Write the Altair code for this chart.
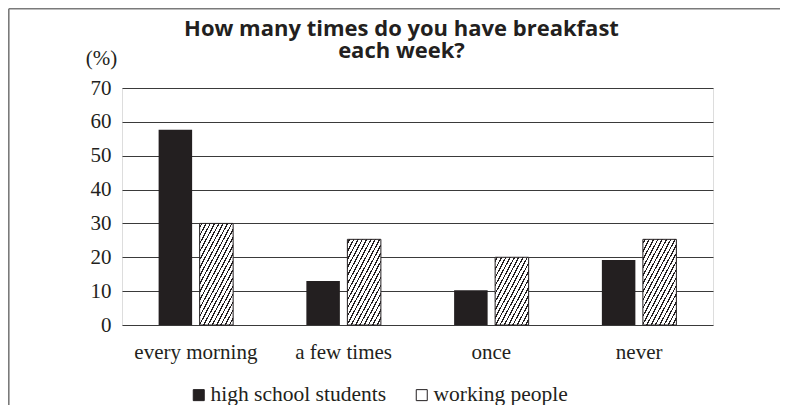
import json
import math
import altair as alt
import pandas as pd

categories = ["every morning", "a few times", "once", "never"]
series = ["high school students", "working people"]
high_school = [57.7, 13.0, 10.3, 19.2]
working = [30.0, 25.3, 20.0, 25.3]
y_ticks = [0, 10, 20, 30, 40, 50, 60, 70]

rows = []
for c, v in zip(categories, high_school):
    rows.append({"category": c, "series": series[0], "value": v})
for c, v in zip(categories, working):
    rows.append({"category": c, "series": series[1], "value": v})
df = pd.DataFrame(rows)

W_PLOT, H_PLOT = 591, 237
PAD_L, PAD_T, PAD_R, PAD_B = 114, 80, 67, 80
Y_MAX = 70
PAD_IN, PAD_OUT = 0.183, 0.893
step_o = (W_PLOT / len(categories)) / (2 - PAD_IN + 2 * PAD_OUT)
BAR_W = step_o * (1 - PAD_IN)
INK = "#231f20"


def hatch(h_px, w_px=BAR_W, theta_deg=62.0, period_h=4.3, lw=1.2):
    s = math.sin(math.radians(theta_deg))
    c = math.cos(math.radians(theta_deg))
    fmax = w_px * s + h_px * c
    d = (w_px * s) ** 2 + (h_px * c) ** 2
    k = fmax / d
    gx, gy = k * w_px * s, k * h_px * c
    p = period_h * s
    stops = [{"offset": 0, "color": "white"}]
    f = p / 2
    while f + lw / 2 < fmax:
        a = (f - lw / 2) / fmax
        b = (f + lw / 2) / fmax
        stops += [
            {"offset": round(a, 5), "color": "white"},
            {"offset": round(a, 5), "color": INK},
            {"offset": round(b, 5), "color": INK},
            {"offset": round(b, 5), "color": "white"},
        ]
        f += p
    stops.append({"offset": 1, "color": "white"})
    return {"gradient": "linear", "x1": 0, "y1": 0, "x2": round(gx, 5),
            "y2": round(gy, 5), "stops": stops}


x_enc = alt.X("category:N", sort=categories,
              scale=alt.Scale(paddingInner=0, paddingOuter=0),
              axis=alt.Axis(title=None, labelAngle=0, domain=False, ticks=False,
                            tickSize=0, labelPadding=16, labelFontSize=21,
                            labelFont="Liberation Serif", labelColor=INK))
xo_enc = alt.XOffset("series:N", scale=alt.Scale(domain=series, paddingInner=PAD_IN,
                                                 paddingOuter=PAD_OUT))
y_enc = alt.Y("value:Q", scale=alt.Scale(domain=[0, Y_MAX], nice=False),
              axis=alt.Axis(values=y_ticks, title="(%)", titleAngle=0, titleX=-21,
                            titleY=-30, titleAlign="center", titleBaseline="middle",
                            titleFont="Liberation Serif", titleFontSize=21,
                            titleFontWeight="normal", titleColor=INK,
                            domain=False, ticks=False, tickSize=0, labelPadding=11,
                            labelFont="Liberation Serif", labelFontSize=21,
                            labelColor=INK, labelBaseline="middle",
                            grid=True, gridColor="#3a3a3a", gridWidth=1.2))

legend_kw = dict(title=None, orient="none", legendX=66, legendY=296,
                 direction="horizontal", symbolType="square",
                 symbolSize=121, symbolStrokeColor=INK,
                 symbolStrokeWidth=1, labelFont="Liberation Serif",
                 labelFontSize=21.5, labelColor=INK, labelOffset=1,
                 labelLimit=400, columnPadding=24, padding=0)


def build(legend):
    base = alt.Chart(df)
    bars = base.mark_bar(stroke=INK, strokeWidth=0).encode(
        x=x_enc, xOffset=xo_enc, y=y_enc,
        fill=alt.Fill("series:N", scale=alt.Scale(domain=series, range=[INK, "white"]),
                      legend=legend),
    )
    layers = [bars]
    for cat, v in zip(categories, working):
        h_px = v * H_PLOT / Y_MAX
        layers.append(
            base.transform_filter(
                (alt.datum.series == series[1]) & (alt.datum.category == cat)
            ).mark_bar(fill=hatch(h_px), stroke=INK, strokeWidth=1).encode(
                x=x_enc, xOffset=xo_enc, y=y_enc
            )
        )
    frame_df = pd.DataFrame({"k": [0]})
    frame_top = alt.Chart(frame_df).mark_rule(color="#7a7a7a", strokeWidth=1.6).encode(
        x=alt.value(-PAD_L + 0.8), x2=alt.value(W_PLOT + PAD_R), y=alt.value(-PAD_T + 0.8))
    frame_left = alt.Chart(frame_df).mark_rule(color="#7a7a7a", strokeWidth=1.6).encode(
        x=alt.value(-PAD_L + 0.8), y=alt.value(-PAD_T + 0.8), y2=alt.value(H_PLOT + PAD_B))
    layers += [frame_top, frame_left]
    return alt.layer(*layers).properties(
        width=W_PLOT, height=H_PLOT,
        title=alt.TitleParams(
            text=["How many times do you have breakfast", "each week?"],
            font="Open Sans", fontSize=22, fontWeight="bold", color=INK,
            anchor="middle", frame="group", dx=-16, dy=82, offset=27, lineHeight=22),
        autosize=alt.AutoSizeParams(type="none"),
        padding={"left": PAD_L, "top": PAD_T, "right": PAD_R, "bottom": PAD_B},
    ).configure_view(stroke=None).configure(background="white")


symbol_hatch = hatch(11, w_px=11, period_h=3.4, lw=1.0)
expr = ("datum.value === 'working people' ? " + json.dumps(symbol_hatch)
        + " : '" + INK + "'")
attempts = [
    {"symbols": {"fill": {"signal": expr}}},
    {"symbols": {"fill": {"value": {"expr": expr}}}},
]
chart = None
for enc in attempts:
    try:
        c = build(alt.Legend(encoding=enc, **legend_kw))
        c.to_dict()
        chart = c
        break
    except Exception:
        continue
if chart is None:
    chart = build(alt.Legend(**legend_kw))

chart.save("out.html", embed_options={"renderer": "svg", "actions": False})
